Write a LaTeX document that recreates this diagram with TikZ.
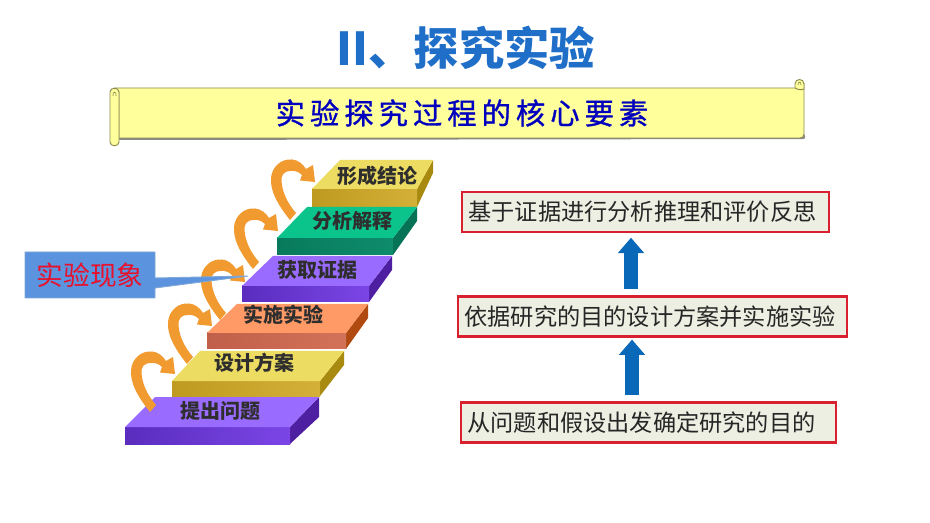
\documentclass[tikz,border=0pt]{standalone}
\usepackage{fontspec}
\setmainfont{Noto Sans CJK SC}
\newfontfamily\cjkwide[LetterSpace=17,FakeBold=1]{Noto Sans CJK SC}
\usetikzlibrary{arrows.meta,calc}
\definecolor{titleblue}{HTML}{1F6FC9}
\definecolor{arrowblue}{HTML}{0A68B8}
\definecolor{boxred}{HTML}{D8202E}
\definecolor{boxfill}{HTML}{EDEFE2}
\definecolor{scrollfill}{HTML}{FFFF9C}
\definecolor{scrollline}{HTML}{8C8A50}
\definecolor{curl}{HTML}{F09A30}
\definecolor{bannerblue}{HTML}{0000BE}
\definecolor{callfill}{HTML}{5B93DE}
\definecolor{callline}{HTML}{7FA8D8}
\definecolor{calltext}{HTML}{E8102A}
\definecolor{purpleTop}{HTML}{9A6BFF}
\definecolor{purpleA}{HTML}{5A2DBE}
\definecolor{purpleB}{HTML}{7B45E6}
\definecolor{purpleSide}{HTML}{4E1FA0}
\definecolor{goldTop}{HTML}{EDDC62}
\definecolor{goldA}{HTML}{BE9A20}
\definecolor{goldB}{HTML}{D4B038}
\definecolor{goldSide}{HTML}{A88A10}
\definecolor{coralTop}{HTML}{FF9A66}
\definecolor{coralA}{HTML}{C0604A}
\definecolor{coralB}{HTML}{D27258}
\definecolor{coralSide}{HTML}{B04A10}
\definecolor{greenTop}{HTML}{0AC48C}
\definecolor{greenA}{HTML}{087A5C}
\definecolor{greenB}{HTML}{0E8C6C}
\definecolor{greenSide}{HTML}{067256}
\tikzset{
  px/.style={x=0.75pt,y=-0.75pt},
  goalbox/.style={draw=boxred,line width=1.6pt,fill=boxfill,minimum height=30pt,inner sep=0pt,font=\fontsize{17.4pt}{20pt}\selectfont,text=black!85},
  uparrow/.style={draw=arrowblue,line width=10pt,-{Triangle[length=11.5pt,width=19pt]}},
  steplabel/.style={font=\fontsize{15pt}{18pt}\selectfont\bfseries,text=black!82,inner sep=0pt},
  curlarrow/.style={fill=curl,draw=none},
}
% front-left x, front-right x, front top y, front bottom y, back-left x, back-right x, back y, side bottom y, colour prefix
\newcommand{\stair}[9]{%
  \fill[#9Side] (#2,#3) -- (#6,#7) -- (#6,#8) -- (#2,#4) -- cycle;
  \shade[left color=#9A,right color=#9B] (#1,#3) rectangle (#2,#4);
  \fill[#9Top] (#1,#3) -- (#5,#7) -- (#6,#7) -- (#2,#3) -- cycle;
}
\newcommand{\curlshape}[2]{%
  \begin{scope}[shift={(#1,#2)}]
    \fill[curlarrow] (150,412) .. controls (137,396) and (130,382) .. (131,370)
      .. controls (132,358) and (142,350.5) .. (152,351.5)
      .. controls (158,352) and (163,356) .. (166,361)
      -- (173,357) -- (175,374) -- (160,372.5) -- (162,367)
      .. controls (159,364) and (155,362.5) .. (151,363)
      .. controls (144,363) and (141,367) .. (141.5,373)
      .. controls (142,384) and (148,396) .. (156,405) -- cycle;
  \end{scope}}
\begin{document}
\begin{tikzpicture}[px]
\useasboundingbox (0,0) rectangle (930,523);
\fill[white] (0,0) rectangle (930,523);

% title
\node[font=\fontsize{34pt}{40pt}\selectfont\bfseries,text=titleblue,inner sep=0pt] (title) at (466,48) {II、探究实验};

% scroll
\fill[black!45,rounded corners=2pt] (117,133) -- (804,133) -- (806,139) -- (117,140) -- cycle;
\draw[scrollline,fill=scrollfill,line width=.7pt] (115,88) -- (797,88) -- (804,84) -- (804,134) .. controls (804,137) and (802,138) .. (800,138) -- (119,138) -- (119,92) -- cycle;
\draw[scrollline,fill=scrollfill,line width=.7pt] (110,92) .. controls (110,87) and (119,87) .. (119,92) -- (119,142) .. controls (119,147) and (110,147) .. (110,142) -- cycle;
\draw[scrollline,line width=.5pt] (113,96) .. controls (112,91) and (117,91) .. (116,96);
\draw[scrollline,fill=scrollfill,line width=.7pt] (795,88) -- (795,84) .. controls (795,78) and (804,78) .. (804,84) -- (804,89) .. controls (802,90) and (798,90) .. (795,88) -- cycle;
\draw[scrollline,line width=.5pt] (798,85) .. controls (798,81) and (801,81) .. (801,85);
\node[font=\fontsize{22pt}{28pt}\cjkwide\selectfont,text=bannerblue,inner sep=0pt] (banner) at (462,113) {实验探究过程的核心要素};

% stairs, top to bottom
\stair{312}{417}{189}{207}{340}{433}{160}{173}{gold}
\stair{277}{393}{238}{255}{307}{417}{207}{221}{green}
\stair{242}{369}{286}{302}{273}{392}{256}{270}{purple}
\stair{207}{346}{333}{349}{237}{368}{304}{318}{coral}
\stair{172}{320}{381}{396}{200}{344}{351}{365}{gold}
\stair{125}{290}{427}{444}{155}{319}{397}{417}{purple}

% curved arrows
\curlshape{0}{0}
\curlshape{37}{-48}
\curlshape{70}{-92}
\curlshape{140}{-192}
\curlshape{103}{-143}

% step labels
\node[steplabel] (s6) at (377,176) {形成结论};
\node[steplabel] (s5) at (352,221) {分析解释};
\node[steplabel] (s4) at (317,270) {获取证据};
\node[steplabel] (s3) at (283,315) {实施实验};
\node[steplabel] (s2) at (254,363) {设计方案};
\node[steplabel] (s1) at (220,411) {提出问题};

% callout
\draw[callline,fill=callfill,line width=.7pt] (25,252) -- (155,252) -- (155,278) -- (248,276) -- (155,288) -- (155,298) -- (25,298) -- cycle;
\node[font=\fontsize{20pt}{24pt}\selectfont,text=calltext,inner sep=0pt] (call) at (90,275) {实验现象};

% goal boxes
\node[goalbox,minimum width=275pt] (b1) at (645.5,212) {基于证据进行分析推理和评价反思\rule{4.5pt}{0pt}};
\node[goalbox,minimum width=291.5pt] (b2) at (652.5,316.5) {依据研究的目的设计方案并实施实验\rule{3.75pt}{0pt}};
\node[goalbox,minimum width=281pt] (b3) at (648.5,422.5) {从问题和假设出发确定研究的目的\rule{10.5pt}{0pt}};
\coordinate (ax1) at (631,0);
\coordinate (ax2) at (632,0);
\draw[uparrow,shorten <=4.5pt,shorten >=3.5pt] (b2.north -| ax1) -- (b1.south -| ax1);
\draw[uparrow,shorten <=4.5pt,shorten >=1.5pt] (b3.north -| ax2) -- (b2.south -| ax2);
\end{tikzpicture}
\end{document}
